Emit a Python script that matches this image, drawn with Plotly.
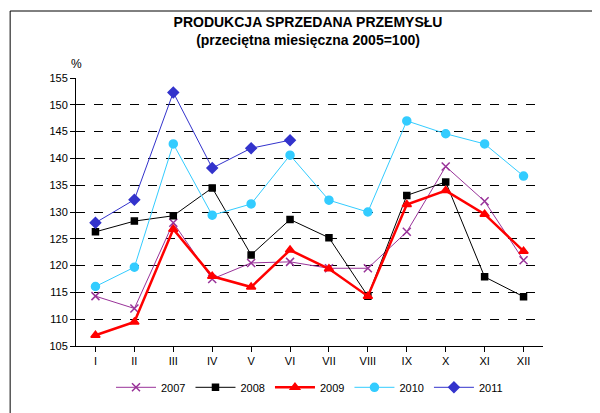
import plotly.graph_objects as go

months = ["I","II","III","IV","V","VI","VII","VIII","IX","X","XI","XII"]
s2007 = [114.3,112.0,128.0,117.5,120.5,120.7,119.5,119.5,126.3,138.5,132.0,121.0]
s2008 = [126.3,128.3,129.3,134.5,122.0,128.6,125.2,114.3,133.1,135.6,117.9,114.2]
s2009 = [107.0,109.5,126.8,118.0,116.0,122.9,119.4,114.3,131.4,134.0,129.6,122.7]
s2010 = [116.1,119.7,142.7,129.4,131.5,140.6,132.2,130.0,147.0,144.6,142.7,136.7]
s2011 = [128.0,132.3,152.3,138.2,141.9,143.4]

fig = go.Figure()
specs = [
    ("2007", s2007, "#993399", "x-thin", 8, 1),
    ("2008", s2008, "black", "square", 6, 1),
    ("2009", s2009, "#ff0000", "triangle-up", 8, 2.5),
    ("2010", s2010, "#33ccff", "circle", 8, 1),
    ("2011", s2011, "#3333cc", "diamond", 8, 1),
]
for name, ys, c, sym, sz, w in specs:
    fig.add_trace(go.Scatter(x=months[:len(ys)], y=ys, name=name, mode="lines+markers",
        line=dict(color=c, width=w),
        marker=dict(symbol=sym, size=sz, color=c, line=dict(color=c, width=1.5))))

fig.update_layout(
    width=600, height=413, paper_bgcolor="white", plot_bgcolor="white",
    font=dict(family="Liberation Sans, Arial", size=11, color="black"),
    title=dict(text="<b>PRODUKCJA SPRZEDANA PRZEMYSŁU<br>(przeciętna miesięczna 2005=100)</b>",
               x=0.5, xanchor="center", y=0.955, yanchor="top", font=dict(size=14)),
    margin=dict(l=68, r=65, t=70, b=75),
    legend=dict(orientation="h", x=0.5, xanchor="center", y=-0.1, yanchor="top",
                font=dict(size=11), itemwidth=40),
    showlegend=True,
    shapes=[dict(type="rect", xref="paper", yref="paper", x0=-0.141, x1=1.133, y0=-0.265, y1=1.25,
                 line=dict(color="black", width=1))],
    annotations=[dict(text="%", xref="paper", yref="paper", x=0.0, y=1.02, xanchor="center",
                      yanchor="bottom", showarrow=False, font=dict(size=12))],
)
fig.update_xaxes(showline=True, linecolor="black", ticks="outside", tickcolor="black",
                 showgrid=False, mirror=False, range=[-0.5, 11.5])
fig.update_yaxes(range=[105, 155], dtick=5, showline=True, linecolor="black",
                 ticks="outside", tickcolor="black", gridcolor="black", griddash="dash",
                 gridwidth=0.5, zeroline=False)
fig.write_html("out.html")
